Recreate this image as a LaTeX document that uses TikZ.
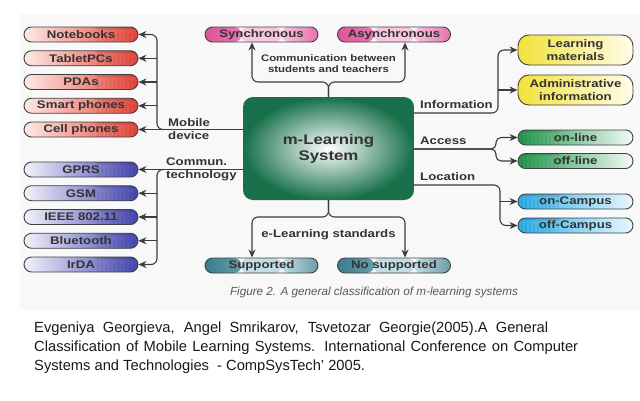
\documentclass[tikz,border=0pt]{standalone}
\usepackage{fontspec}
\setmainfont{Liberation Sans}
\newfontfamily\wfont[FakeStretch=1.2]{Liberation Sans}
\usetikzlibrary{arrows.meta}
\definecolor{bgc}{HTML}{F8F8F8}
\definecolor{boxline}{HTML}{404040}
\definecolor{lnc}{HTML}{3C3C3C}
\definecolor{txt}{HTML}{333333}
\definecolor{redL}{HTML}{FCEAE5}
\definecolor{redR}{HTML}{E8453A}
\definecolor{blueL}{HTML}{F2F2FA}
\definecolor{blueR}{HTML}{4646B4}
\definecolor{pinkL}{HTML}{DE5499}
\definecolor{pinkM}{HTML}{F8C6DF}
\definecolor{pinkR}{HTML}{E670AA}
\definecolor{tealL}{HTML}{3A7D8C}
\definecolor{tealM}{HTML}{C2DEE4}
\definecolor{tealR}{HTML}{6C9CA8}
\definecolor{yelL}{HTML}{F2E23A}
\definecolor{yelR}{HTML}{FFFCEA}
\definecolor{grnL}{HTML}{22984E}
\definecolor{grnR}{HTML}{F4FAF5}
\definecolor{cyaL}{HTML}{2EAFEA}
\definecolor{cyaR}{HTML}{EAF6FD}
\definecolor{mgreen}{HTML}{17704A}
\definecolor{capc}{HTML}{5A5A5A}
\tikzset{
  pill/.style={draw=boxline, line width=0.9pt, rounded corners=7.5pt,
    minimum width=114pt, minimum height=15pt, inner sep=0pt,
    font=\wfont\bfseries\fontsize{11}{12}\selectfont, text=txt},
  stripesright/.style={path picture={
    \foreach \k in {0,...,9}{\fill[black,opacity=0.09]
      ([xshift=-3pt-\k*4pt]path picture bounding box.north east) rectangle ++(-1.6pt,-20pt);}}},
  stripesleft/.style={path picture={
    \foreach \k in {0,...,9}{\fill[black,opacity=0.09]
      ([xshift=3pt+\k*4pt]path picture bounding box.north west) rectangle ++(1.6pt,-20pt);}}},
  threeshade/.style n args={3}{path picture={
    \shade[left color=#1, right color=#2] (path picture bounding box.south west) rectangle ([xshift=-20pt]path picture bounding box.north);
    \fill[#2] ([xshift=-20.5pt]path picture bounding box.south) rectangle ([xshift=20.5pt]path picture bounding box.north);
    \shade[left color=#2, right color=#3] ([xshift=20pt]path picture bounding box.south) rectangle (path picture bounding box.north east);}},
  redbox/.style={pill, left color=redL, right color=redR, stripesright},
  bluebox/.style={pill, left color=blueL, right color=blueR, stripesright},
  pinkbox/.style={pill, minimum width=113pt, threeshade={pinkL}{pinkM}{pinkR}},
  tealbox/.style={pill, minimum width=113pt, threeshade={tealL}{tealM}{tealR}},
  yelbox/.style={pill, minimum width=115pt, minimum height=30pt, rounded corners=11pt,
    align=center, font=\wfont\bfseries\fontsize{11}{13}\selectfont, left color=yelL, right color=yelR},
  grnbox/.style={pill, minimum width=115pt, left color=grnL, right color=grnR, stripesleft},
  cyabox/.style={pill, minimum width=115pt, left color=cyaL, right color=cyaR, stripesleft},
  conn/.style={draw=lnc, line width=1.1pt},
  arr/.style={conn, -{Stealth[length=8pt,width=7pt]}},
  rc/.style={rounded corners=6pt},
  lbl/.style={font=\wfont\bfseries\fontsize{11}{13}\selectfont, text=txt, inner sep=0pt, align=left},
}
\begin{document}
\begin{tikzpicture}[x=1pt,y=-1pt]
\useasboundingbox (0,0) rectangle (640,400);
\fill[bgc] (20,14) rectangle (640,310);

% main
\node[rounded corners=10pt, minimum width=171pt, minimum height=103pt, inner sep=0pt,
  inner color=white, outer color=mgreen, text=txt, align=center,
  font=\wfont\bfseries\fontsize{14}{16}\selectfont] (main) at (328.5,148.5) {m-Learning\\System};

% left red
\node[redbox] (note) at (81,34.5) {Notebooks};
\node[redbox] (tab) at (81,58.25) {TabletPCs};
\node[redbox] (pda) at (81,82) {PDAs};
\node[redbox] (smart) at (81,105.75) {Smart phones};
\node[redbox] (cell) at (81,129.5) {Cell phones};
% left blue
\node[bluebox] (gprs) at (81,169.5) {GPRS};
\node[bluebox] (gsm) at (81,193.25) {GSM};
\node[bluebox] (ieee) at (81,217) {IEEE 802.11};
\node[bluebox] (bt) at (81,240.75) {Bluetooth};
\node[bluebox] (irda) at (81,264.5) {IrDA};
% top
\node[pinkbox] (sync) at (261.5,34.5) {Synchronous};
\node[pinkbox] (async) at (394,34.5) {Asynchronous};
% bottom
\node[tealbox] (sup) at (261.5,265.5) {Supported};
\node[tealbox] (nosup) at (394,265.5) {No supported};
% right
\node[yelbox] (learn) at (575.5,50) {Learning\\materials};
\node[yelbox] (admin) at (575.5,90) {Administrative\\information};
\node[grnbox] (online) at (575.5,137.5) {on-line};
\node[grnbox] (offline) at (575.5,161) {off-line};
\node[cyabox] (onc) at (575.5,201.5) {on-Campus};
\node[cyabox] (offc) at (575.5,225.5) {off-Campus};

% helper coordinates
\coordinate (lt) at (157,0);
\coordinate (lt2) at (164,0);
\coordinate (topy) at (0,82);
\coordinate (boty) at (0,217);
\coordinate (sx) at (252,0);
\coordinate (ax) at (405,0);
\coordinate (infy) at (0,113);
\coordinate (ix) at (498,0);
\coordinate (accy) at (0,149);
\coordinate (acx) at (496,0);
\coordinate (locy) at (0,185);
\coordinate (lx) at (500,0);

% left connectors
\draw[arr] (main.west |- cell.east) -- (cell.east);
\draw[arr, rc] (lt2 |- cell.east) -- (lt |- cell.east) -- (lt |- note.east) -- (note.east);
\foreach \n in {tab,pda,smart} \draw[arr] (lt |- \n.east) -- (\n.east);
\draw[arr] (main.west |- gprs.east) -- (gprs.east);
\draw[arr, rc] (lt2 |- gprs.east) -- (lt |- gprs.east) -- (lt |- irda.east) -- (irda.east);
\foreach \n in {gsm,ieee,bt} \draw[arr] (lt |- \n.east) -- (\n.east);

% top / bottom
\draw[arr, rc] (main.north) -- (main.north |- topy) -- (sx |- topy) -- (sx |- sync.south);
\draw[arr, rc] (main.north) -- (main.north |- topy) -- (ax |- topy) -- (ax |- async.south);
\draw[arr, rc] (main.south) -- (main.south |- boty) -- (sx |- boty) -- (sx |- sup.north);
\draw[arr, rc] (main.south) -- (main.south |- boty) -- (ax |- boty) -- (ax |- nosup.north);

% right
\draw[arr, rc] (main.east |- infy) -- (ix |- infy) -- (ix |- learn.west) -- (learn.west);
\draw[arr] (ix |- admin.west) -- (admin.west);
\draw[arr, rounded corners=5pt] (main.east |- accy) -- (acx |- accy) -- (acx |- online.west) -- (online.west);
\draw[arr, rounded corners=5pt] (main.east |- accy) -- (acx |- accy) -- (acx |- offline.west) -- (offline.west);
\draw[arr, rc] (main.east |- locy) -- (lx |- locy) -- (lx |- offc.west) -- (offc.west);
\draw[arr] (lx |- onc.west) -- (onc.west);

% labels
\node[lbl, anchor=west] (lmob) at (168,129.5) {Mobile\\device};
\node[lbl, anchor=west] (lcom) at (166,169.5) {Commun.\\technology};
\node[lbl, align=center, font=\wfont\bfseries\fontsize{9.5}{11}\selectfont] (lcst) at (328.5,64) {Communication between\\students and teachers};
\node[lbl] (lels) at (328.5,235) {e-Learning standards};
\node[lbl, anchor=west] (linf) at (420,105) {Information};
\node[lbl, anchor=west] (lacc) at (420,141) {Access};
\node[lbl, anchor=west] (lloc) at (420,177) {Location};

% caption and citation
\node[font=\itshape\fontsize{11.7}{13}\selectfont, text=capc, inner sep=0pt] (cap) at (374,292) {Figure 2. A general classification of m-learning systems};
\node[anchor=west, inner sep=0pt, font=\fontsize{14.7}{17}\selectfont, text=black!90] (c1) at (34,329)
  {\makebox[514pt][s]{Evgeniya Georgieva, Angel Smrikarov, Tsvetozar Georgie(2005).A General}};
\node[anchor=west, inner sep=0pt, font=\fontsize{14.7}{17}\selectfont, text=black!90] (c2) at (34,348)
  {\makebox[544pt][s]{Classification of Mobile Learning Systems. International Conference on Computer}};
\node[anchor=west, inner sep=0pt, font=\fontsize{14.7}{17}\selectfont, text=black!90] (c3) at (34,367)
  {Systems and Technologies \ - CompSysTech' 2005.};
\end{tikzpicture}
\end{document}
